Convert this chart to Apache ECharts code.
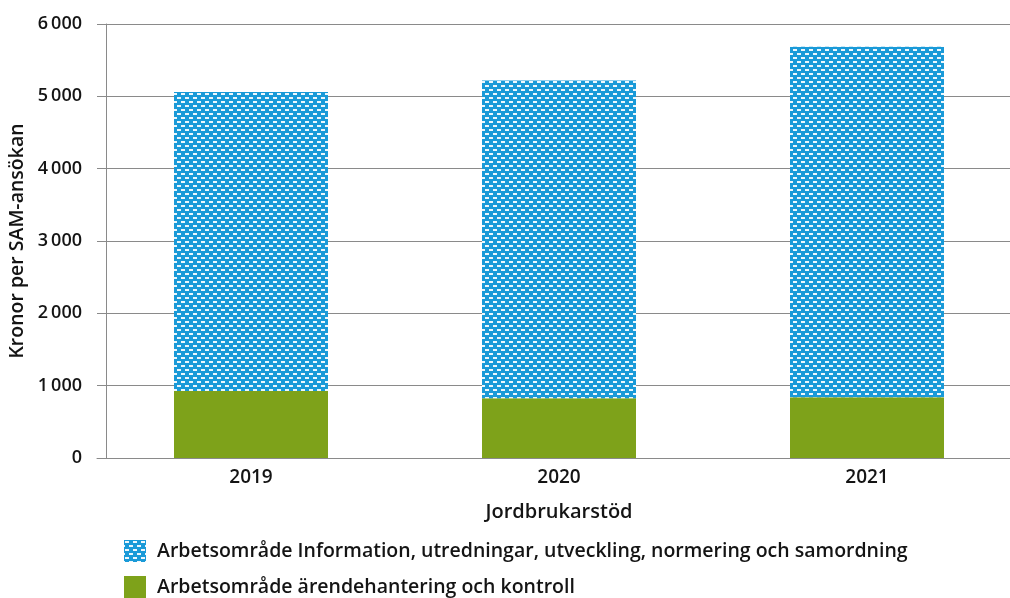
<!DOCTYPE html>
<html>
<head>
<meta charset="utf-8">
<script src="https://cdn.jsdelivr.net/npm/echarts@6/dist/echarts.min.js"></script>
<style>
  html, body { margin: 0; padding: 0; background: #fff; overflow: hidden; }
  #chart { width: 1030px; height: 598px; }
</style>
</head>
<body>
<div id="chart"></div>
<script>
const years = ['2019', '2020', '2021'];
const kontroll = [925, 825, 840];
const information = [4135, 4395, 4845];
const seriesNames = [
  'Arbetsområde Information, utredningar, utveckling, normering och samordning',
  'Arbetsområde ärendehantering och kontroll'
];

// brick-like dash pattern for the blue series
function makePattern() {
  const c = document.createElement('canvas');
  c.width = 8;
  c.height = 8;
  const ctx = c.getContext('2d');
  ctx.fillStyle = '#1a9ad8';
  ctx.fillRect(0, 0, 8, 8);
  ctx.fillStyle = 'rgba(255,255,255,0.92)';
  ctx.fillRect(1, 1, 4, 2);
  ctx.fillRect(5, 5, 4, 2);
  ctx.fillRect(0, 5, 1, 2);
  return c;
}

const fmt = v => String(v).replace(/\B(?=(\d{3})+(?!\d))/g, '\u2009');
const font = '"Open Sans", "Noto Sans", sans-serif';
const ink = '#141414';

const chart = echarts.init(document.getElementById('chart'));
chart.setOption({
  animation: false,
  textStyle: { fontFamily: font },
  grid: { left: 97, right: 9, top: 24, bottom: 140, outerBoundsMode: 'none', containLabel: false },
  legend: {
    orient: 'vertical',
    left: 124,
    top: 540,
    padding: 0,
    itemWidth: 22,
    itemHeight: 22,
    itemGap: 14,
    icon: 'rect',
    textStyle: { fontSize: 19.5, fontWeight: 600, color: ink, fontFamily: font, padding: [0, 0, 0, 6] },
    data: [seriesNames[0], seriesNames[1]]
  },
  xAxis: {
    type: 'category',
    data: years,
    name: 'Jordbrukarstöd',
    nameLocation: 'middle',
    nameGap: 44,
    nameTextStyle: { fontSize: 20, fontWeight: 600, color: ink },
    axisLine: { lineStyle: { color: '#8a8a8a' } },
    axisTick: { show: false },
    axisLabel: { fontSize: 19, fontWeight: 600, color: ink, margin: 10 }
  },
  yAxis: {
    type: 'value',
    min: 0,
    max: 6000,
    interval: 1000,
    offset: -9,
    name: 'Kronor per SAM-ansökan',
    nameLocation: 'middle',
    nameGap: 78,
    nameTextStyle: { fontSize: 19.5, fontWeight: 600, color: ink },
    axisLine: { show: true, lineStyle: { color: '#8a8a8a' } },
    axisTick: { show: false },
    axisLabel: { fontSize: 18, fontWeight: 600, color: ink, margin: 24, formatter: fmt },
    splitLine: { lineStyle: { color: '#8a8a8a' } }
  },
  series: [
    {
      name: seriesNames[1],
      type: 'bar',
      stack: 'total',
      barWidth: 154,
      data: kontroll,
      itemStyle: { color: '#7ea21a' }
    },
    {
      name: seriesNames[0],
      type: 'bar',
      stack: 'total',
      barWidth: 154,
      data: information,
      itemStyle: { color: { image: makePattern(), repeat: 'repeat' } }
    }
  ]
});
</script>
</body>
</html>
